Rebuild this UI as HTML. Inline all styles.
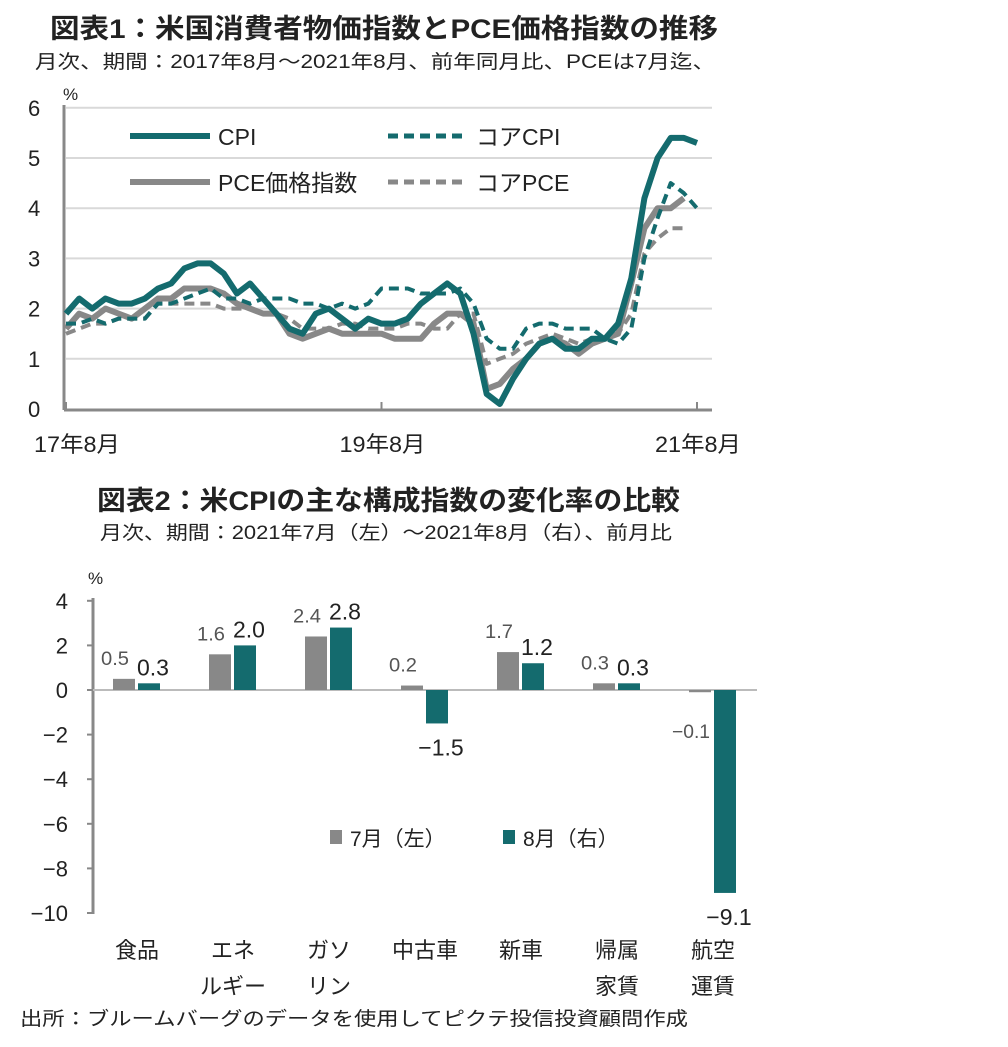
<!DOCTYPE html>
<html><head><meta charset="utf-8">
<style>
body{margin:0;background:#fff;width:1008px;height:1047px;overflow:hidden;font-family:"Liberation Sans","Noto Sans CJK JP",sans-serif;}
svg{position:absolute;left:0;top:0}
text{font-family:"Liberation Sans","Noto Sans CJK JP",sans-serif;}
</style></head>
<body>
<svg id="s" width="1008" height="1047">
<text x="50" y="38" font-size="27" font-weight="bold" fill="#222" textLength="668" lengthAdjust="spacingAndGlyphs">図表1：米国消費者物価指数とPCE価格指数の推移</text>
<text x="35" y="68" font-size="19" fill="#222" textLength="680" lengthAdjust="spacingAndGlyphs">月次、期間：2017年8月～2021年8月、前年同月比、PCEは7月迄、</text>
<text x="97" y="510" font-size="27" font-weight="bold" fill="#222" textLength="583" lengthAdjust="spacingAndGlyphs">図表2：米CPIの主な構成指数の変化率の比較</text>
<text x="100" y="539" font-size="19" fill="#222" textLength="572" lengthAdjust="spacingAndGlyphs">月次、期間：2021年7月（左）～2021年8月（右）、前月比</text>
<text x="20" y="1025" font-size="19" fill="#222" textLength="668" lengthAdjust="spacingAndGlyphs">出所：ブルームバーグのデータを使用してピクテ投信投資顧問作成</text>
<g id="c1"></g><g id="c2"></g>
</svg>
<script>
const cpi=[1.9,2.2,2.0,2.2,2.1,2.1,2.2,2.4,2.5,2.8,2.9,2.9,2.7,2.3,2.5,2.2,1.9,1.6,1.5,1.9,2.0,1.8,1.6,1.8,1.7,1.7,1.8,2.1,2.3,2.5,2.3,1.5,0.3,0.1,0.6,1.0,1.3,1.4,1.2,1.2,1.4,1.4,1.7,2.6,4.2,5.0,5.4,5.4,5.3];
const coreCpi=[1.7,1.7,1.8,1.7,1.8,1.8,1.8,2.1,2.1,2.2,2.3,2.4,2.2,2.2,2.1,2.2,2.2,2.2,2.1,2.1,2.0,2.1,2.0,2.1,2.4,2.4,2.4,2.3,2.3,2.3,2.4,2.1,1.4,1.2,1.2,1.6,1.7,1.7,1.6,1.6,1.6,1.4,1.3,1.6,3.0,3.8,4.5,4.3,4.0];
const pce=[1.6,1.9,1.8,2.0,1.9,1.8,2.0,2.2,2.2,2.4,2.4,2.4,2.3,2.1,2.0,1.9,1.9,1.5,1.4,1.5,1.6,1.5,1.5,1.5,1.5,1.4,1.4,1.4,1.7,1.9,1.9,1.7,0.4,0.5,0.8,1.0,1.3,1.4,1.3,1.1,1.3,1.4,1.5,2.5,3.6,4.0,4.0,4.2];
const corePce=[1.5,1.6,1.7,1.7,1.8,1.8,1.8,2.1,2.1,2.1,2.1,2.1,2.0,2.0,2.0,1.9,1.9,1.8,1.6,1.6,1.6,1.7,1.7,1.6,1.6,1.6,1.7,1.7,1.6,1.6,1.9,1.9,0.9,1.0,1.1,1.3,1.4,1.5,1.4,1.3,1.4,1.4,1.5,1.9,3.1,3.4,3.6,3.6];
const yTicks1=[0,1,2,3,4,5,6];
const xLabels1=[[0,"17年8月"],[24,"19年8月"],[48,"21年8月"]];
const cats=["食品","エネ|ルギー","ガソ|リン","中古車","新車","帰属|家賃","航空|運賃"];
const jul=[0.5,1.6,2.4,0.2,1.7,0.3,-0.1];
const aug=[0.3,2.0,2.8,-1.5,1.2,0.3,-9.1];
const yTicks2=[4,2,0,-2,-4,-6,-8,-10];
const NS="http://www.w3.org/2000/svg";
function mk(p,t,a,txt){const e=document.createElementNS(NS,t);for(const k in a)e.setAttribute(k,a[k]);if(txt!==undefined)e.textContent=txt;p.appendChild(e);return e;}
const TEAL="#146b6e",GRAY="#888";
const c1=document.getElementById('c1');
const X1=i=>66+i*(631/48), Y1=v=>409-v*50.2;
yTicks1.forEach(v=>{
 if(v>0){const g=mk(c1,'line',{x1:66,x2:712,y1:Y1(v),y2:Y1(v),stroke:'#d9d9d9','stroke-width':2});
 }
 const t=mk(c1,'text',{x:28,y:Y1(v)+8,'font-size':22,fill:'#222'},String(v));
 
});
mk(c1,'text',{x:63,y:100,'font-size':17,fill:'#222'},'%');
mk(c1,'line',{x1:64,x2:64,y1:105,y2:410,stroke:GRAY,'stroke-width':3});
mk(c1,'line',{x1:64,x2:712,y1:410,y2:410,stroke:GRAY,'stroke-width':3});
xLabels1.forEach(([i,l])=>{
 mk(c1,'line',{x1:X1(i),x2:X1(i),y1:402,y2:410,stroke:GRAY,'stroke-width':2});
 const t=mk(c1,'text',{x:X1(i)+(i==0?-32:i==48?-42:-42),y:452,'font-size':22,fill:'#222',textLength:86,lengthAdjust:'spacingAndGlyphs'},l);
 
});
function line(d,col,dash,name){const p=mk(c1,'polyline',{points:d.map((v,i)=>X1(i)+','+Y1(v)).join(' '),fill:'none',stroke:col,'stroke-width':dash?4:6,'stroke-dasharray':dash?'10 6':'none','stroke-linejoin':'round'});
 }
line(corePce,GRAY,true,'core-pce-line');line(pce,GRAY,false,'pce-line');line(coreCpi,TEAL,true,'core-cpi-line');line(cpi,TEAL,false,'cpi-line');
[[130,136,TEAL,false,'CPI'],[388,136,TEAL,true,'コアCPI'],[130,182,GRAY,false,'PCE価格指数'],[388,182,GRAY,true,'コアPCE']].forEach(([x,y,c,d,l])=>{
 const g=mk(c1,'g',{});
 mk(g,'line',{x1:x,x2:x+80,y1:y,y2:y,stroke:c,'stroke-width':d?5:6,'stroke-dasharray':d?'10 6':'none'});
 mk(g,'text',{x:x+88,y:y+9,'font-size':23,fill:'#222'},l);
});
const c2=document.getElementById('c2');
const Y2=v=>690-v*22.3, X2=i=>137+i*96;
yTicks2.forEach(v=>{const t=mk(c2,'text',{x:68,y:Y2(v)+8,'font-size':22,fill:'#222','text-anchor':'end'},v<0?'−'+(-v):String(v));
 
 mk(c2,'line',{x1:87,x2:93,y1:Y2(v),y2:Y2(v),stroke:GRAY,'stroke-width':2});});
mk(c2,'text',{x:88,y:584,'font-size':17,fill:'#222'},'%');
mk(c2,'line',{x1:93,x2:93,y1:598,y2:914,stroke:GRAY,'stroke-width':3});
mk(c2,'line',{x1:93,x2:757,y1:690,y2:690,stroke:'#bbb','stroke-width':2});
cats.forEach((c,i)=>{
 const cx=X2(i);
 const b1=mk(c2,'rect',{x:cx-24,width:22,y:Math.min(Y2(jul[i]),690),height:Math.abs(Y2(jul[i])-690),fill:GRAY});
 
 const b2=mk(c2,'rect',{x:cx+1,width:22,y:Math.min(Y2(aug[i]),690),height:Math.abs(Y2(aug[i])-690),fill:TEAL});
 
 const jy=jul[i]>=0?Math.min(Y2(jul[i]),690)-14:738;
 mk(c2,'text',{x:cx-22,y:jy,'font-size':19,fill:'#555','text-anchor':'middle',textLength:i==6?38:28,lengthAdjust:'spacingAndGlyphs'},jul[i]<0?'−'+(-jul[i]):jul[i].toFixed(1));
 const ay=aug[i]>=0?Y2(aug[i])-8:Y2(aug[i])+32;
 mk(c2,'text',{x:cx+16,y:ay,'font-size':23,fill:'#222','text-anchor':'middle'},aug[i]<0?'−'+(-aug[i]).toFixed(1):aug[i].toFixed(1));
 c.split('|').forEach((l,k)=>{const t=mk(c2,'text',{x:cx,y:958+k*36,'font-size':22,fill:'#222','text-anchor':'middle'},l);
  });
});
[[330,GRAY,'7月（左）'],[503,TEAL,'8月（右）']].forEach(([x,c,l])=>{
 const g=mk(c2,'g',{});
 mk(g,'rect',{x:x,y:830,width:12,height:14,fill:c});mk(g,'text',{x:x+20,y:846,'font-size':21,fill:'#222'},l);
});
</script>
</body></html>
